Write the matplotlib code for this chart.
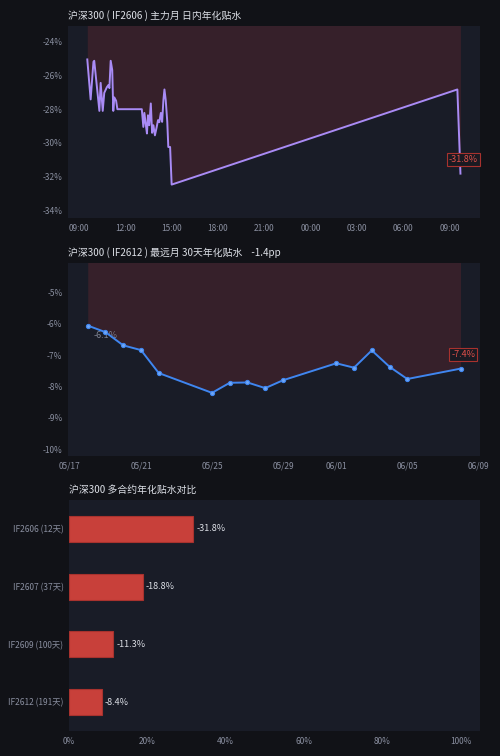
import numpy as np
import pandas as pd
import matplotlib
matplotlib.use("Agg")
import matplotlib.pyplot as plt
import matplotlib.dates as mdates
from matplotlib.ticker import FuncFormatter, FixedLocator

plt.rcParams['font.family'] = ['Noto Sans CJK SC', 'DejaVu Sans']

# ---- data ----
intraday_time = [
    "06-07 09:32", "06-07 09:45", "06-07 09:56", "06-07 09:59", "06-07 10:19",
    "06-07 10:24", "06-07 10:32", "06-07 10:38", "06-07 10:48", "06-07 10:54",
    "06-07 10:58", "06-07 11:03", "06-07 11:09", "06-07 11:13", "06-07 11:17",
    "06-07 11:24", "06-07 11:29", "06-07 13:04", "06-07 13:10", "06-07 13:14",
    "06-07 13:19", "06-07 13:24", "06-07 13:28", "06-07 13:33", "06-07 13:39",
    "06-07 13:44", "06-07 13:49", "06-07 13:55", "06-07 14:02", "06-07 14:07",
    "06-07 14:12", "06-07 14:18", "06-07 14:23", "06-07 14:28", "06-07 14:32",
    "06-07 14:37", "06-07 14:43", "06-07 14:47", "06-07 14:54", "06-07 15:00",
    "06-08 09:31", "06-08 09:43",
]
intraday_basis = [
    -25.05, -27.42, -25.19, -25.13, -28.10,
    -26.44, -28.10, -27.03, -26.70, -26.57,
    -26.75, -25.13, -25.68, -28.10, -27.30,
    -27.50, -28.00, -28.00, -29.05, -28.22,
    -28.85, -29.44, -28.36, -28.95, -27.66,
    -29.40, -28.95, -29.55, -29.05, -28.65,
    -28.77, -28.22, -28.75, -27.46, -26.83,
    -27.46, -28.75, -30.24, -30.24, -32.47,
    -26.83, -31.82,
]

far_dates = ["05-18", "05-19", "05-20", "05-21", "05-22", "05-25", "05-26", "05-27",
             "05-28", "05-29", "06-01", "06-02", "06-03", "06-04", "06-05", "06-08"]
far_basis = [-6.06, -6.27, -6.69, -6.84, -7.57, -8.20, -7.88, -7.87,
             -8.05, -7.80, -7.26, -7.40, -6.85, -7.37, -7.76, -7.43]
far_ticks = ["05-17", "05-21", "05-25", "05-29", "06-01", "06-05", "06-09"]

contracts = ["IF2606 (12天)", "IF2607 (37天)", "IF2609 (100天)", "IF2612 (191天)"]
contract_basis = [-31.8, -18.8, -11.3, -8.4]

title1 = "沪深300 ( IF2606 ) 主力月 日内年化贴水"
title2 = "沪深300 ( IF2612 ) 最远月 30天年化贴水    -1.4pp"
title3 = "沪深300 多合约年化贴水对比"

# ---- style ----
FIG_BG = "#111217"
AX_BG = "#191c27"
FILL = "#36202a"
TXT = "#dcdfe6"
TICK = "#8a8fa0"
RED = "#e0504a"

t1 = pd.to_datetime(["2026-" + s for s in intraday_time])
d2 = pd.to_datetime(["2026-" + s for s in far_dates])
tk2 = pd.to_datetime(["2026-" + s for s in far_ticks])

fig = plt.figure(figsize=(5.0, 7.56), dpi=100, facecolor=FIG_BG)


def style(ax):
    ax.set_facecolor(AX_BG)
    for s in ax.spines.values():
        s.set_visible(False)
    ax.tick_params(colors=TICK, labelsize=6, length=0, pad=4)


def tag(ax, x, y, txt):
    ax.annotate(txt, (x, y), xytext=(2, 10), textcoords="offset points",
                ha="center", va="center", fontsize=6.5, color=RED, zorder=5,
                bbox=dict(boxstyle="square,pad=0.2", fc="#1a1a22", ec="#a8322e", lw=0.8))


pct = FuncFormatter(lambda v, p: f"{v:.0f}%")

# panel 1: intraday
ax1 = fig.add_axes([0.136, 0.7112, 0.824, 0.2548])
style(ax1)
ax1.fill_between(t1, intraday_basis, 0, color=FILL, lw=0, zorder=1)
ax1.plot(t1, intraday_basis, color="#a98bf5", lw=1.4, zorder=3)
ax1.set_ylim(-34.47, -23.05)
ax1.set_yticks([-34, -32, -30, -28, -26, -24])
ax1.yaxis.set_major_formatter(pct)
ax1.set_xlim(pd.Timestamp("2026-06-07 08:17"), pd.Timestamp("2026-06-08 10:59"))
ax1.xaxis.set_major_locator(mdates.HourLocator(byhour=range(0, 24, 3)))
ax1.xaxis.set_major_formatter(mdates.DateFormatter("%H:%M"))
ax1.set_title(title1, loc="left", color=TXT, fontsize=7.1, pad=5)
tag(ax1, t1[-1], intraday_basis[-1], f"{intraday_basis[-1]:.1f}%")

# panel 2: far month
ax2 = fig.add_axes([0.136, 0.3972, 0.824, 0.2549])
style(ax2)
ax2.fill_between(d2, far_basis, 0, color=FILL, lw=0, zorder=1)
ax2.plot(d2, far_basis, color="#3f86f0", lw=1.4, marker="o", ms=3,
         mfc="#6fa6f5", mec="#3f86f0", mew=0.8, zorder=3)
ax2.annotate(f"{far_basis[0]:.1f}%", (d2[0], far_basis[0]), xytext=(13, -7),
             textcoords="offset points", ha="center", va="center",
             fontsize=6.5, color="#7c8190", zorder=2)
ax2.set_ylim(-10.2, -4.07)
ax2.set_yticks([-10, -9, -8, -7, -6, -5])
ax2.yaxis.set_major_formatter(pct)
ax2.set_xlim(pd.Timestamp("2026-05-16 21:20"), pd.Timestamp("2026-06-09 02:20"))
ax2.xaxis.set_major_locator(FixedLocator(mdates.date2num(tk2)))
ax2.xaxis.set_major_formatter(mdates.DateFormatter("%m/%d"))
ax2.set_title(title2, loc="left", color=TXT, fontsize=7.1, pad=5)
tag(ax2, d2[-1], far_basis[-1], f"{far_basis[-1]:.1f}%")

# panel 3: contracts
ax3 = fig.add_axes([0.138, 0.0331, 0.822, 0.3056])
style(ax3)
ypos = np.arange(len(contracts))
mag = np.abs(contract_basis)
ax3.barh(ypos, mag, height=0.45, color="#c8403a", edgecolor="#a8322e", lw=0.8, zorder=2)
for y, m, v in zip(ypos, mag, contract_basis):
    ax3.text(m + 0.8, y, f"{v:.1f}%", color=TXT, fontsize=6.5, va="center", ha="left")
ax3.set_yticks(ypos)
ax3.set_yticklabels(contracts)
ax3.set_ylim(3.5, -0.5)
ax3.set_xlim(0, 105)
ax3.set_xticks([0, 20, 40, 60, 80, 100])
ax3.xaxis.set_major_formatter(pct)
ax3.set_title(title3, loc="left", color=TXT, fontsize=7.1, pad=5)

fig.savefig("out.png", dpi=100, facecolor=FIG_BG)
